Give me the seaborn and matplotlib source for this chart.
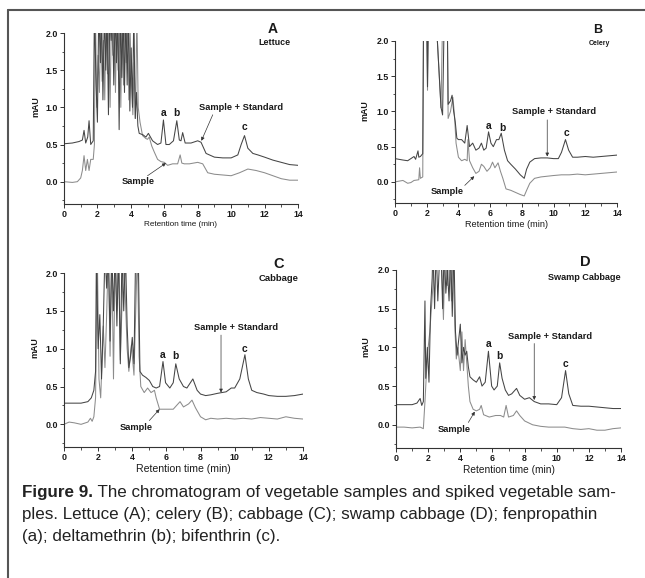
import matplotlib
matplotlib.use("Agg")
import matplotlib.pyplot as plt
from matplotlib.ticker import MultipleLocator, AutoMinorLocator
import pandas as pd
import seaborn as sns

# ---------------------------------------------------------------------------
# Data (values above 2.0 are off-scale)
# ---------------------------------------------------------------------------
A_STD_T = [0, 0.5, 0.9, 1.1, 1.2, 1.3, 1.42, 1.5, 1.6, 1.75, 1.82, 1.92, 2.0, 2.08, 2.18, 2.25,
           2.33, 2.42, 2.5, 2.58, 2.66, 2.74, 2.82, 2.9, 2.98, 3.06, 3.14, 3.22, 3.3, 3.38,
           3.46, 3.54, 3.62, 3.7, 3.78, 3.86, 3.94, 4.02, 4.1, 4.18, 4.26, 4.34, 4.42, 4.5,
           4.73, 4.9, 5.05, 5.3, 5.6, 5.8, 5.95, 6.1, 6.3, 6.55, 6.75, 6.9, 7.0, 7.1, 7.25,
           7.6, 8.0, 8.2, 8.5, 9.0, 9.5, 10.0, 10.4, 10.6, 10.8, 11.0, 11.3, 11.6, 12.0, 12.5,
           13.0, 13.5, 14.0]
A_STD_Y = [0.51, 0.52, 0.54, 0.56, 0.69, 0.52, 0.6, 0.82, 0.5, 0.55, 2.3, 1.3, 0.8, 2.3, 1.6, 2.3,
           1.1, 2.3, 1.5, 2.3, 0.9, 2.3, 1.9, 2.3, 1.3, 2.3, 1.6, 2.3, 0.7, 2.3,
           1.4, 2.3, 1.2, 2.3, 1.3, 2.3, 0.95, 1.8, 1.0, 2.3, 0.85, 1.2, 0.75, 0.65,
           0.63, 0.6, 0.65, 0.55, 0.5, 0.52, 0.83, 0.5, 0.5, 0.55, 0.82, 0.56, 0.55, 0.66, 0.52,
           0.52, 0.55, 0.53, 0.38, 0.33, 0.32, 0.32, 0.36, 0.5, 0.62, 0.45, 0.38, 0.36, 0.33, 0.29,
           0.26, 0.23, 0.22]
A_SMP_T = [0, 0.5, 0.8, 1.0, 1.1, 1.2, 1.3, 1.4, 1.5, 1.6, 1.75, 1.82, 1.88, 1.96, 2.04, 2.12,
           2.2, 2.28, 2.36, 2.44, 2.52, 2.6, 2.68, 2.76, 2.84, 2.92, 3.0, 3.08, 3.16, 3.24, 3.32,
           3.4, 3.48, 3.56, 3.64, 3.72, 3.8, 3.88, 3.96, 4.04, 4.12, 4.2, 4.28, 4.36, 4.44,
           4.55, 4.7, 4.9, 5.0, 5.1, 5.25, 5.4, 5.6, 5.8, 6.0, 6.2, 6.5, 6.8, 6.95, 7.05, 7.2,
           7.5, 8.0, 8.3, 8.6, 9.0, 9.5, 10.0, 10.5, 11.0, 11.5, 12.0, 12.5, 13.0, 13.5, 14.0]
A_SMP_Y = [0.0, -0.01, 0.0, 0.05, 0.15, 0.35, 0.15, 0.3, 0.15, 0.3, 0.3, 0.5, 2.3, 1.0, 1.7, 1.2,
           2.3, 1.35, 1.9, 1.1, 2.3, 1.45, 2.3, 1.0, 2.3, 1.7, 2.3, 1.2, 2.3, 1.5, 2.3,
           1.0, 2.3, 1.3, 2.3, 1.6, 2.3, 1.1, 2.0, 1.3, 0.9, 1.6, 0.85, 2.3, 1.0,
           0.8, 0.62, 0.58, 0.57, 0.6, 0.48, 0.4, 0.3, 0.27, 0.26, 0.22, 0.24, 0.24, 0.36, 0.25, 0.24,
           0.24, 0.26, 0.24, 0.12, 0.1, 0.09, 0.08, 0.12, 0.17, 0.15, 0.12, 0.08, 0.04, 0.02, 0.02]

B_STD_T = [0, 0.5, 0.8, 1.0, 1.2, 1.3, 1.45, 1.5, 1.6, 1.75, 1.8, 2.0, 2.05, 2.1, 2.6, 2.9, 3.0,
           3.1, 3.3, 3.35, 3.5, 3.6, 3.7, 3.8, 3.9, 4.0, 4.2, 4.4, 4.55, 4.7, 4.9, 5.1, 5.3,
           5.45, 5.6, 5.75, 5.9, 6.05, 6.2, 6.4, 6.55, 6.7, 6.9, 7.1, 7.3, 7.6, 7.9, 8.15, 8.3,
           8.5, 8.8, 9.2, 9.6, 10.0, 10.3, 10.5, 10.75, 10.95, 11.2, 11.5, 12.0, 12.5, 13.0,
           13.5, 14.0]
B_STD_Y = [0.33, 0.31, 0.3, 0.33, 0.36, 0.32, 0.44, 0.35, 0.36, 0.4, 2.3, 2.3, 1.35, 2.3, 2.3, 1.06, 0.95,
           2.3, 2.3, 1.1, 1.15, 1.23, 1.0, 0.85, 0.62, 0.6, 0.6, 0.55, 0.8, 0.5, 0.55, 0.45, 0.48,
           0.55, 0.45, 0.48, 0.71, 0.55, 0.5, 0.6, 0.6, 0.69, 0.45, 0.3, 0.25, 0.18, 0.1, 0.05, 0.18,
           0.28, 0.33, 0.34, 0.34, 0.33, 0.33, 0.42, 0.6, 0.45, 0.35, 0.35, 0.36, 0.35, 0.36,
           0.37, 0.38]
B_SMP_T = [0, 0.5, 0.8, 1.0, 1.2, 1.5, 1.55, 1.6, 1.75, 1.8, 2.0, 2.05, 2.1, 2.6, 2.9, 3.0, 3.3,
           3.35, 3.5, 3.65, 3.75, 3.85, 4.0, 4.2, 4.4, 4.55, 4.6, 4.7, 4.9, 5.1, 5.3, 5.45,
           5.6, 5.8, 6.0, 6.15, 6.3, 6.5, 6.65, 6.8, 7.0, 7.3, 7.6, 7.9, 8.15, 8.3, 8.5, 8.8,
           9.2, 9.6, 10.0, 10.5, 11.0, 11.5, 12.0, 12.5, 13.0, 13.5, 14.0]
B_SMP_Y = [0.0, 0.02, -0.02, -0.01, 0.02, 0.03, 0.2, 0.05, 0.07, 2.3, 2.3, 1.3, 2.3, 2.3, 1.05, 2.3, 2.3,
           0.9, 1.0, 1.2, 0.95, 0.55, 0.35, 0.3, 0.32, 0.3, 0.6, 0.3, 0.2, 0.12, 0.15, 0.25,
           0.22, 0.15, 0.2, 0.28, 0.2, 0.27, 0.15, 0.05, -0.1, -0.12, -0.15, -0.18, -0.2, -0.12, -0.02, 0.05,
           0.07, 0.08, 0.09, 0.1, 0.1, 0.11, 0.1, 0.11, 0.12, 0.13, 0.14]

C_STD_T = [0, 0.5, 1.0, 1.4, 1.6, 1.75, 1.85, 1.9, 2.0, 2.1, 2.2, 2.3, 2.4, 2.5, 2.6, 2.7, 2.8,
           2.9, 3.0, 3.1, 3.2, 3.3, 3.4, 3.5, 3.6, 3.7, 3.8, 3.9, 4.0, 4.1, 4.2, 4.35, 4.45,
           4.6, 4.8, 5.0, 5.2, 5.4, 5.6, 5.8, 5.95, 6.2, 6.4, 6.55, 6.75, 7.0, 7.2, 7.55, 7.8,
           8.0, 8.3, 8.6, 9.0, 9.5, 9.8, 10.0, 10.3, 10.6, 10.8, 11.0, 11.3, 11.7, 12.0, 12.5,
           13.0, 13.5, 14.0]
C_STD_Y = [0.28, 0.28, 0.28, 0.3, 0.35, 0.45, 0.7, 2.3, 1.0, 1.45, 0.6, 1.3, 2.3, 1.8, 2.3, 1.1, 2.3,
           1.5, 2.3, 1.3, 2.3, 0.8, 2.3, 1.5, 2.3, 1.3, 0.75, 0.9, 1.15, 0.8, 2.3, 2.3, 0.7,
           0.65, 0.62, 0.58, 0.5, 0.48, 0.5, 0.83, 0.55, 0.48, 0.55, 0.8, 0.6, 0.5, 0.48, 0.6, 0.45,
           0.4, 0.38, 0.39, 0.41, 0.43, 0.48, 0.48, 0.6, 0.92, 0.6, 0.45, 0.42, 0.4, 0.38, 0.37,
           0.37, 0.38, 0.4]
C_SMP_T = [0, 0.3, 0.6, 1.0, 1.4, 1.55, 1.65, 1.75, 1.85, 1.95, 2.05, 2.15, 2.3, 2.4, 2.5, 2.6,
           2.7, 2.8, 2.9, 3.0, 3.1, 3.2, 3.3, 3.5, 3.7, 3.8, 3.95, 4.1, 4.3, 4.4, 4.5, 4.7,
           4.9, 5.1, 5.3, 5.4, 5.6, 6.0, 6.4, 6.8, 7.0, 7.3, 7.5, 7.7, 8.0, 8.3, 8.6, 9.0,
           9.5, 10.0, 10.5, 11.0, 11.5, 12.0, 12.5, 13.0, 13.5, 14.0]
C_SMP_Y = [0.0, 0.03, 0.02, 0.0, 0.03, 0.08, 0.04, 0.1, 0.35, 2.3, 0.6, 0.35, 1.3, 0.75, 1.45, 2.3,
           0.9, 2.3, 0.6, 2.3, 1.5, 2.3, 0.85, 2.3, 1.0, 0.7, 1.05, 0.65, 2.3, 0.9, 0.5, 0.42,
           0.48, 0.42, 0.45, 0.35, 0.2, 0.2, 0.2, 0.3, 0.23, 0.27, 0.32, 0.22, 0.1, 0.06, 0.08, 0.07,
           0.08, 0.07, 0.08, 0.07, 0.09, 0.08, 0.07, 0.1, 0.08, 0.07]

D_STD_T = [0, 0.5, 1.0, 1.3, 1.5, 1.6, 1.7, 1.8, 1.85, 1.95, 2.05, 2.15, 2.25, 2.3, 2.4, 2.5,
           2.6, 2.7, 2.8, 2.9, 3.0, 3.1, 3.2, 3.3, 3.4, 3.5, 3.6, 3.7, 3.8, 3.9, 4.0, 4.1,
           4.2, 4.3, 4.4, 4.5, 4.6, 4.8, 5.0, 5.2, 5.35, 5.55, 5.75, 5.95, 6.1, 6.3, 6.45, 6.6,
           6.8, 7.0, 7.2, 7.5, 7.7, 8.0, 8.3, 8.6, 9.0, 9.5, 10.0, 10.3, 10.55, 10.75, 11.0,
           11.5, 12.0, 12.5, 13.0, 13.5, 14.0]
D_STD_Y = [0.26, 0.26, 0.26, 0.28, 0.34, 0.25, 0.3, 1.6, 0.6, 1.0, 0.55, 1.5, 1.9, 2.3, 1.5, 2.3,
           1.6, 2.1, 2.3, 1.5, 2.3, 1.7, 2.0, 1.6, 2.3, 1.4, 2.3, 1.2, 0.9, 1.1, 1.3, 0.8,
           1.0, 0.9, 0.95, 0.75, 0.62, 0.58, 0.55, 0.62, 0.5, 0.55, 0.95, 0.5, 0.45, 0.5, 0.8, 0.6,
           0.45, 0.38, 0.4, 0.47, 0.38, 0.33, 0.35, 0.3, 0.27, 0.27, 0.26, 0.35, 0.7, 0.4, 0.25,
           0.24, 0.24, 0.23, 0.22, 0.21, 0.21]
D_SMP_T = [0, 0.5, 1.0, 1.5, 1.7, 1.8, 1.9, 2.0, 2.1, 2.2, 2.3, 2.4, 2.6, 2.8, 2.95, 3.05, 3.2,
           3.3, 3.45, 3.55, 3.65, 3.75, 3.85, 4.0, 4.1, 4.2, 4.3, 4.4, 4.5, 4.6, 4.8, 5.0,
           5.2, 5.3, 5.45, 5.8, 6.2, 6.5, 6.7, 6.85, 7.0, 7.3, 7.5, 7.7, 8.0, 8.5, 9.0, 9.5,
           10.0, 10.5, 11.0, 11.5, 12.0, 12.5, 13.0, 13.5, 14.0]
D_SMP_Y = [-0.03, -0.03, -0.04, -0.03, -0.05, 0.3, 0.7, 1.0, 1.2, 1.5, 1.8, 2.3, 2.3, 2.3, 1.36, 2.3, 1.8,
           2.3, 1.6, 2.3, 1.3, 0.85, 1.0, 0.7, 1.2, 0.7, 1.1, 0.8, 0.5, 0.3, 0.2, 0.18,
           0.2, 0.25, 0.13, 0.1, 0.12, 0.12, 0.1, 0.25, 0.1, 0.12, 0.18, 0.12, 0.05, 0.0, -0.02, -0.03,
           -0.03, -0.03, -0.05, -0.06, -0.05, -0.07, -0.07, -0.05, -0.04]

PANEL_LETTERS = ["A", "B", "C", "D"]
PANEL_NAMES = ["Lettuce", "Celery", "Cabbage", "Swamp Cabbage"]
PEAK_NAMES = ["a", "b", "c"]

CAPTION_BOLD = "Figure 9."
CAPTION_LINES = [
    " The chromatogram of vegetable samples and spiked vegetable sam-",
    "ples. Lettuce (A); celery (B); cabbage (C); swamp cabbage (D); fenpropathin",
    "(a); deltamethrin (b); bifenthrin (c).",
]

# ---------------------------------------------------------------------------
# Layout (axes boxes in figure fractions, label positions in data units)
# ---------------------------------------------------------------------------
AX_BOXES = [
    [0.0992, 0.6471, 0.3628, 0.2958],
    [0.6124, 0.6488, 0.3442, 0.2803],
    [0.0992, 0.2266, 0.3705, 0.3010],
    [0.6140, 0.2249, 0.3488, 0.3080],
]
YLABEL_X = [-0.103, -0.117, -0.105, -0.116]
LETTER_POS = [(12.5, 2.05), (12.8, 2.15), (12.6, 2.12), (11.8, 2.1)]
LETTER_SIZE = [10, 9, 10.5, 10.5]
NAME_POS = [(12.6, 1.87), (12.9, 1.96), (12.6, 1.93), (11.7, 1.9)]
NAME_SIZE = [6.4, 5.0, 6.8, 6.6]
PEAK_POS = [
    [(5.95, 0.92), (6.75, 0.92), (10.8, 0.73)],
    [(5.9, 0.8), (6.8, 0.77), (10.8, 0.7)],
    [(5.8, 0.92), (6.55, 0.9), (10.6, 1.0)],
    [(5.75, 1.05), (6.45, 0.89), (10.55, 0.78)],
]
# (text xy, arrow start, arrow tip) for the "Sample + Standard" and "Sample" callouts
STD_CALLOUT = [
    ((10.6, 1.0), (8.9, 0.9), (8.22, 0.55)),
    ((10.0, 1.0), (9.6, 0.88), (9.6, 0.36)),
    ((10.1, 1.28), (9.2, 1.18), (9.2, 0.42)),
    ((9.6, 1.14), (8.6, 1.05), (8.6, 0.32)),
]
SMP_CALLOUT = [
    ((4.45, 0.0), (5.0, 0.08), (6.1, 0.25)),
    ((3.3, -0.13), (4.4, -0.05), (5.0, 0.08)),
    ((4.2, -0.04), (5.0, 0.05), (5.6, 0.2)),
    ((3.6, -0.06), (4.5, 0.03), (4.9, 0.17)),
]
XLABEL_SIZE = [5.9, 6.6, 7.6, 7.3]

STD_COLOR = "#454545"
SMP_COLOR = "#8c8c8c"
TEXT_COLOR = "#1a1a1a"
CAPTION_LEFT = 22
CAPTION_RIGHT = 617


def draw_panel(fig, i, std_t, std_y, smp_t, smp_y):
    ax = fig.add_axes(AX_BOXES[i])
    std = pd.DataFrame({"t": std_t, "y": std_y})
    smp = pd.DataFrame({"t": smp_t, "y": smp_y})
    sns.lineplot(data=smp, x="t", y="y", ax=ax, color=SMP_COLOR, lw=0.75,
                 estimator=None, sort=False)
    sns.lineplot(data=std, x="t", y="y", ax=ax, color=STD_COLOR, lw=0.75,
                 estimator=None, sort=False)
    ax.set_xlim(0, 14)
    ax.set_ylim(-0.3, 2.0)
    ax.xaxis.set_major_locator(MultipleLocator(2))
    ax.xaxis.set_minor_locator(AutoMinorLocator(2))
    ax.set_yticks([0.0, 0.5, 1.0, 1.5, 2.0])
    ax.yaxis.set_minor_locator(MultipleLocator(0.25))
    ax.yaxis.set_major_formatter(plt.FormatStrFormatter("%.1f"))
    ax.tick_params(which="major", length=3, width=0.7, pad=1.5, labelsize=6.4,
                   colors="#333333", labelcolor=TEXT_COLOR)
    ax.tick_params(which="minor", length=1.8, width=0.6, colors="#333333")
    for lab in ax.get_xticklabels() + ax.get_yticklabels():
        lab.set_fontweight("bold")
    sns.despine(ax=ax)
    for s in ("left", "bottom"):
        ax.spines[s].set_linewidth(0.8)
        ax.spines[s].set_color("#333333")
    ax.set_xlabel("Retention time (min)", fontsize=XLABEL_SIZE[i], labelpad=1.5,
                  color=TEXT_COLOR)
    ax.set_ylabel("mAU", fontsize=6.4, fontweight="bold", color=TEXT_COLOR)
    ax.yaxis.set_label_coords(YLABEL_X[i], 0.57)

    # panel letter + vegetable
    ax.text(*LETTER_POS[i], PANEL_LETTERS[i], ha="center", va="center",
            fontsize=LETTER_SIZE[i], fontweight="bold", color=TEXT_COLOR, clip_on=False)
    ax.text(*NAME_POS[i], PANEL_NAMES[i], ha="center", va="center",
            fontsize=NAME_SIZE[i], fontweight="bold", color=TEXT_COLOR, clip_on=False)
    # peak letters
    for name, pos in zip(PEAK_NAMES, PEAK_POS[i]):
        ax.text(*pos, name, ha="center", va="center", fontsize=7.4,
                fontweight="bold", color=TEXT_COLOR)
    # callouts
    txt, start, tip = STD_CALLOUT[i]
    ax.text(*txt, "Sample + Standard", ha="center", va="center", fontsize=6.7,
            fontweight="bold", color=TEXT_COLOR)
    ax.annotate("", xy=tip, xytext=start,
                arrowprops=dict(arrowstyle="-|>", lw=0.5, color="#333333",
                                mutation_scale=5, shrinkA=0, shrinkB=0))
    txt, start, tip = SMP_CALLOUT[i]
    ax.text(*txt, "Sample", ha="center", va="center", fontsize=6.7,
            fontweight="bold", color=TEXT_COLOR)
    ax.annotate("", xy=tip, xytext=start,
                arrowprops=dict(arrowstyle="-|>", lw=0.5, color="#333333",
                                mutation_scale=5, shrinkA=0, shrinkB=0))
    return ax


def add_caption(fig):
    W, H = fig.bbox.width, fig.bbox.height
    baselines = [497, 519, 541]
    size = 12.0
    t0 = fig.text(CAPTION_LEFT / W, 1 - baselines[0] / H, CAPTION_BOLD, fontsize=size,
                  fontweight="bold", va="baseline", color="#222222")
    t1 = fig.text(0, 1 - baselines[0] / H, CAPTION_LINES[0], fontsize=size,
                  va="baseline", color="#222222")
    fig.canvas.draw()
    r = fig.canvas.get_renderer()
    width = t0.get_window_extent(r).width + t1.get_window_extent(r).width
    # shrink so the first line spans the same width as in the journal layout
    size = size * (CAPTION_RIGHT - CAPTION_LEFT) / width
    t0.set_fontsize(size)
    t1.set_fontsize(size)
    fig.canvas.draw()
    t1.set_x(t0.get_window_extent(r).x1 / W)
    for line, b in zip(CAPTION_LINES[1:], baselines[1:]):
        fig.text(CAPTION_LEFT / W, 1 - b / H, line, fontsize=size,
                 va="baseline", color="#222222")


def main():
    sns.set_style("ticks")
    plt.rcParams["font.family"] = ["Liberation Sans", "DejaVu Sans"]

    fig = plt.figure(figsize=(6.45, 5.78), dpi=100)
    fig.patch.set_facecolor("white")

    draw_panel(fig, 0, A_STD_T, A_STD_Y, A_SMP_T, A_SMP_Y)
    draw_panel(fig, 1, B_STD_T, B_STD_Y, B_SMP_T, B_SMP_Y)
    draw_panel(fig, 2, C_STD_T, C_STD_Y, C_SMP_T, C_SMP_Y)
    draw_panel(fig, 3, D_STD_T, D_STD_Y, D_SMP_T, D_SMP_Y)

    # frame lines (top and left) of the figure box
    fig.add_artist(plt.Line2D([8 / 645, 1.0], [1 - 10 / 578] * 2, color="#555555",
                              lw=1.5, transform=fig.transFigure))
    fig.add_artist(plt.Line2D([8 / 645] * 2, [0.0, 1 - 10 / 578], color="#555555",
                              lw=1.5, transform=fig.transFigure))

    add_caption(fig)
    fig.savefig("out.png", dpi=100)


if __name__ == "__main__":
    main()
